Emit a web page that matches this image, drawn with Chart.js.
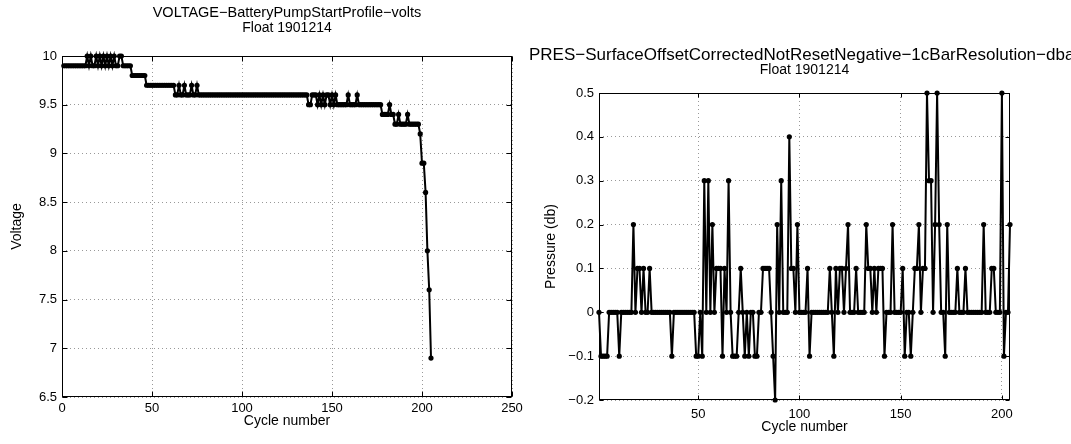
<!DOCTYPE html>
<html>
<head>
<meta charset="utf-8">
<script src="https://cdn.jsdelivr.net/npm/chart.js@4/dist/chart.umd.min.js"></script>
<style>
  html, body { margin: 0; padding: 0; background: #fff; overflow: hidden; }
  #left { position: absolute; left: 0; top: 0; }
  #right { position: absolute; left: 520px; top: 0; }
</style>
</head>
<body>
<canvas id="left" width="540" height="444"></canvas>
<canvas id="right" width="551" height="444"></canvas>
<script>
// battery voltage per cycle, cycles 1..205
const voltage = [
  9.9, 9.9, 9.9, 9.9, 9.9, 9.9, 9.9, 9.9, 9.9, 9.9,
  9.9, 9.9, 9.9, 10, 9.9, 10, 9.9, 9.9, 10, 9.9,
  10, 9.9, 10, 9.9, 10, 9.9, 10, 9.9, 10, 9.9,
  9.9, 10, 10, 9.9, 9.9, 9.9, 9.9, 9.9, 9.8, 9.8,
  9.8, 9.8, 9.8, 9.8, 9.8, 9.8, 9.7, 9.7, 9.7, 9.7,
  9.7, 9.7, 9.7, 9.7, 9.7, 9.7, 9.7, 9.7, 9.7, 9.7,
  9.7, 9.7, 9.6, 9.6, 9.7, 9.6, 9.6, 9.7, 9.6, 9.6,
  9.6, 9.7, 9.6, 9.6, 9.7, 9.6, 9.6, 9.6, 9.6, 9.6,
  9.6, 9.6, 9.6, 9.6, 9.6, 9.6, 9.6, 9.6, 9.6, 9.6,
  9.6, 9.6, 9.6, 9.6, 9.6, 9.6, 9.6, 9.6, 9.6, 9.6,
  9.6, 9.6, 9.6, 9.6, 9.6, 9.6, 9.6, 9.6, 9.6, 9.6,
  9.6, 9.6, 9.6, 9.6, 9.6, 9.6, 9.6, 9.6, 9.6, 9.6,
  9.6, 9.6, 9.6, 9.6, 9.6, 9.6, 9.6, 9.6, 9.6, 9.6,
  9.6, 9.6, 9.6, 9.6, 9.6, 9.6, 9.5, 9.5, 9.6, 9.6,
  9.6, 9.5, 9.6, 9.5, 9.6, 9.5, 9.6, 9.6, 9.5, 9.6,
  9.5, 9.6, 9.5, 9.5, 9.5, 9.5, 9.5, 9.5, 9.6, 9.5,
  9.5, 9.5, 9.5, 9.6, 9.5, 9.5, 9.5, 9.5, 9.5, 9.5,
  9.5, 9.5, 9.5, 9.5, 9.5, 9.5, 9.5, 9.4, 9.4, 9.4,
  9.4, 9.5, 9.4, 9.4, 9.3, 9.3, 9.4, 9.3, 9.3, 9.3,
  9.3, 9.4, 9.3, 9.3, 9.3, 9.3, 9.3, 9.3, 9.2, 8.9,
  8.9, 8.6, 8.0, 7.6, 6.9
]

// surface pressure offset per cycle, cycles 1..204
const pressure = [
  0, -0.1, -0.1, -0.1, -0.1, 0, 0, 0, 0, 0,
  -0.1, 0, 0, 0, 0, 0, 0, 0.2, 0, 0.1,
  0.1, 0, 0.1, 0, 0, 0.1, 0, 0, 0, 0,
  0, 0, 0, 0, 0, 0, -0.1, 0, 0, 0,
  0, 0, 0, 0, 0, 0, 0, 0, -0.1, -0.1,
  0, -0.1, 0.3, 0, 0.3, 0, 0.2, 0, 0.1, 0.1,
  0.1, -0.1, 0.1, 0, 0.3, 0, -0.1, -0.1, -0.1, 0,
  0.1, 0, -0.1, 0, -0.1, 0, 0, -0.1, -0.1, 0,
  0, 0.1, 0.1, 0.1, 0.1, 0, -0.1, -0.2, 0.2, 0,
  0.3, 0, 0, 0, 0.4, 0.1, 0.1, 0, 0.2, 0,
  0, 0, 0, 0.1, -0.1, 0, 0, 0, 0, 0,
  0, 0, 0, 0, 0.1, 0, -0.1, 0.1, 0, 0.1,
  0.1, 0, 0.1, 0.2, 0, 0, 0, 0.1, 0, 0,
  0, 0, 0.2, 0.1, 0.1, 0, 0.1, 0, 0.1, 0.1,
  0.1, -0.1, 0, 0, 0, 0.2, 0, 0, 0, 0,
  0.1, -0.1, 0, 0, -0.1, 0, 0.1, 0.1, 0.2, 0,
  0.1, 0.1, 0.5, 0.3, 0.3, 0, 0.2, 0.5, 0.2, 0,
  0, -0.1, 0.2, 0, 0, 0, 0, 0.1, 0, 0,
  0, 0.1, 0, 0, 0, 0, 0, 0, 0, 0,
  0.2, 0, 0, 0, 0.1, 0.1, 0, 0, 0, 0.5,
  -0.1, 0, 0, 0.2
]

const voltageTicks = [6.5, 7, 7.5, 8, 8.5, 9, 9.5, 10]
const pressureTicks = [-0.2, -0.1, 0, 0.1, 0.2, 0.3, 0.4, 0.5]
const cycleTicksLeft = [0, 50, 100, 150, 200, 250]
const cycleTicksRight = [50, 100, 150, 200]

const FONT = '"Liberation Sans", Arial, Helvetica, sans-serif'
Chart.defaults.font.family = FONT
Chart.defaults.font.size = 13
Chart.defaults.color = '#000'

// box round the axes, inward ticks on all sides and a title centred on the plot
const matlabFrame = {
  id: 'matlabFrame',
  afterDraw(chart, args, opts) {
    const { ctx, chartArea: a, scales } = chart
    ctx.save()
    ctx.strokeStyle = '#000'
    ctx.lineWidth = 1
    const L = Math.round(a.left) + 0.5, R = Math.round(a.right) - 0.5
    const T = Math.round(a.top) + 0.5, B = Math.round(a.bottom) - 0.5
    ctx.strokeRect(L, T, R - L, B - T)
    ctx.beginPath()
    scales.x.ticks.forEach(t => {
      const px = Math.round(scales.x.getPixelForValue(t.value)) + 0.5
      ctx.moveTo(px, B); ctx.lineTo(px, B - opts.tickLen)
      ctx.moveTo(px, T); ctx.lineTo(px, T + opts.tickLen)
    })
    scales.y.ticks.forEach(t => {
      const py = Math.round(scales.y.getPixelForValue(t.value)) + 0.5
      ctx.moveTo(L, py); ctx.lineTo(L + opts.tickLen, py)
      ctx.moveTo(R, py); ctx.lineTo(R - opts.tickLen, py)
    })
    ctx.stroke()
    ctx.fillStyle = '#000'
    ctx.textAlign = 'center'
    ctx.textBaseline = 'middle'
    const cx = (a.left + a.right) / 2
    opts.lines.forEach((s, i) => {
      ctx.font = opts.sizes[i] + 'px ' + FONT
      ctx.fillText(s, cx, opts.top + i * 15)
    })
    ctx.restore()
  }
}

const gridStyle = { color: 'rgba(0,0,0,0.4)', lineWidth: 1, drawTicks: false }
const borderStyle = { display: false, dash: [1, 3] }
const axisTitleFont = { size: 14 }

function lineSet(values) {
  return {
    data: values.map((v, i) => ({ x: i + 1, y: v })),
    borderColor: '#000',
    backgroundColor: '#000',
    borderWidth: 2,
    pointRadius: 2.6,
    pointBorderWidth: 0,
    pointBackgroundColor: '#000',
    clip: 5
  }
}

function setTicks(list) {
  return s => { s.ticks = list.map(v => ({ value: v })) }
}

const plain = v => String(Math.round(v * 10) / 10).replace('-', '\u2212')

new Chart(document.getElementById('left'), {
  type: 'line',
  data: { datasets: [lineSet(voltage)] },
  options: {
    responsive: false,
    animation: false,
    layout: { padding: { left: 9, right: 28, top: 56, bottom: 14 } },
    plugins: {
      legend: { display: false },
      tooltip: { enabled: false },
      matlabFrame: {
        lines: ['VOLTAGE\u2212BatteryPumpStartProfile\u2212volts', 'Float 1901214'],
        sizes: [14.5, 14], top: 13, tickLen: 5
      }
    },
    scales: {
      x: {
        type: 'linear', min: 0, max: 250,
        afterBuildTicks: setTicks(cycleTicksLeft),
        afterFit: s => { s.height = 33 },
        grid: gridStyle, border: borderStyle,
        ticks: { padding: 4, autoSkip: false, maxRotation: 0, callback: plain },
        title: { display: true, text: 'Cycle number', padding: 0, font: axisTitleFont }
      },
      y: {
        min: 6.5, max: 10,
        afterBuildTicks: setTicks(voltageTicks),
        afterFit: s => { s.width = 53 },
        grid: gridStyle, border: borderStyle,
        ticks: { padding: 5, autoSkip: false, callback: plain },
        title: { display: true, text: 'Voltage', padding: 0, font: axisTitleFont }
      }
    }
  },
  plugins: [matlabFrame]
})

new Chart(document.getElementById('right'), {
  type: 'line',
  data: { datasets: [lineSet(pressure)] },
  options: {
    responsive: false,
    animation: false,
    layout: { padding: { left: 23, right: 61, top: 93, bottom: 8 } },
    plugins: {
      legend: { display: false },
      tooltip: { enabled: false },
      matlabFrame: {
        lines: ['PRES\u2212SurfaceOffsetCorrectedNotResetNegative\u22121cBarResolution\u2212dbar', 'Float 1901214'],
        sizes: [17, 14], top: 55, tickLen: 4
      }
    },
    scales: {
      x: {
        type: 'linear', min: 1, max: 204,
        afterBuildTicks: setTicks(cycleTicksRight),
        afterFit: s => { s.height = 36 },
        grid: gridStyle, border: borderStyle,
        ticks: { padding: 7, autoSkip: false, maxRotation: 0, callback: plain },
        title: { display: true, text: 'Cycle number', padding: 0, font: axisTitleFont }
      },
      y: {
        min: -0.2, max: 0.5,
        afterBuildTicks: setTicks(pressureTicks),
        afterFit: s => { s.width = 56 },
        grid: gridStyle, border: borderStyle,
        ticks: { padding: 5, autoSkip: false, callback: plain },
        title: { display: true, text: 'Pressure (db)', padding: 0, font: axisTitleFont }
      }
    }
  },
  plugins: [matlabFrame]
})
</script>
</body>
</html>
